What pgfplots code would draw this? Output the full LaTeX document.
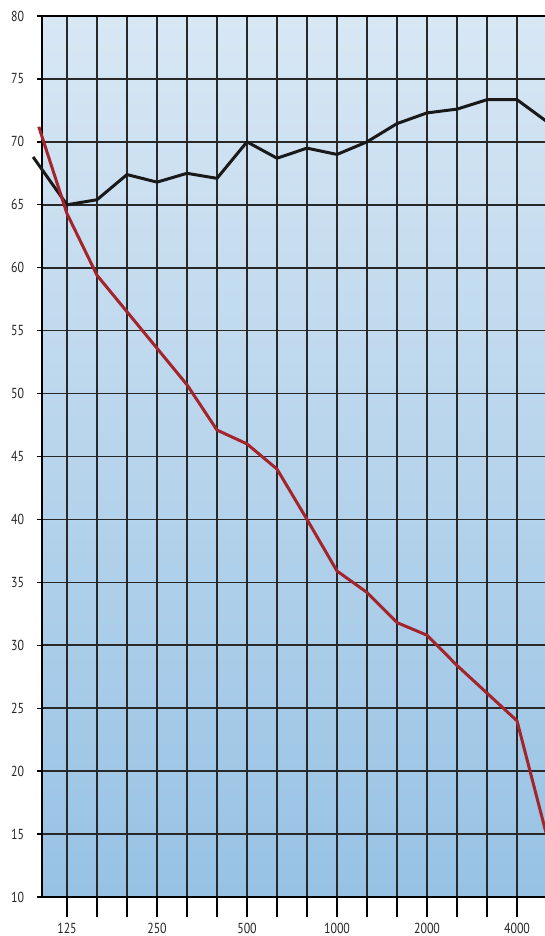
\documentclass[border=0pt]{standalone}
\usepackage{fontspec}
\setmainfont{PT Sans}[FakeStretch=0.82]
\usepackage{pgfplots}
\pgfplotsset{compat=1.18}
\definecolor{bgtop}{RGB}{216,231,244}
\definecolor{bgbot}{RGB}{151,194,228}
\definecolor{gridc}{RGB}{40,40,40}
\definecolor{redc}{RGB}{163,36,42}
\begin{document}
\begin{tikzpicture}
\begin{axis}[
  at={(42pt,39pt)}, anchor=south west,
  scale only axis, width=505pt, height=881pt,
  xmin=-0.833, xmax=16, ymin=10, ymax=80,
  clip=false,
  axis background/.style={top color=bgtop, bottom color=bgbot},
  axis line style={line width=2.4pt, black},
  grid=major,
  major grid style={line width=1.6pt, gridc},
  xtick={0,...,16},
  xticklabels={125,,,250,,,500,,,1000,,,2000,,,4000,},
  ytick={10,15,...,80},
  /pgf/number format/assume math mode=true,
  tick align=outside,
  xtick pos=bottom, ytick pos=left,
  xtick style={/pgfplots/major tick length=20pt, line width=1.4pt, black},
  ytick style={/pgfplots/major tick length=5pt, line width=1.4pt, black},
  tick label style={font=\fontsize{14.5}{16}\selectfont, text=black!85},
  yticklabel style={anchor=east, xshift=-10pt},
  xticklabel style={anchor=north, yshift=-18pt},
]
\addplot[line width=3pt, black!90, line join=round] coordinates {
(-1.13,68.8) (0,65.0) (1,65.4) (2,67.4) (3,66.8) (4,67.5) (5,67.1) (6,70.0) (7,68.7) (8,69.5) (9,69.0) (10,70.0) (11,71.45) (12,72.3) (13,72.6) (14,73.35) (15,73.35) (16,71.6)
};
\addplot[line width=3pt, redc, line join=round] coordinates {
(-0.94,71.2) (0,64.3) (1,59.4) (2,56.5) (3,53.6) (4,50.7) (5,47.1) (6,46.0) (7,44.0) (8,40.0) (9,35.9) (10,34.2) (11,31.8) (12,30.8) (13,28.4) (14,26.2) (15,24.0) (16,14.8)
};
\end{axis}
\pgfresetboundingbox
\path[use as bounding box] (0,0) rectangle (544pt,936pt);
\end{tikzpicture}
\end{document}
